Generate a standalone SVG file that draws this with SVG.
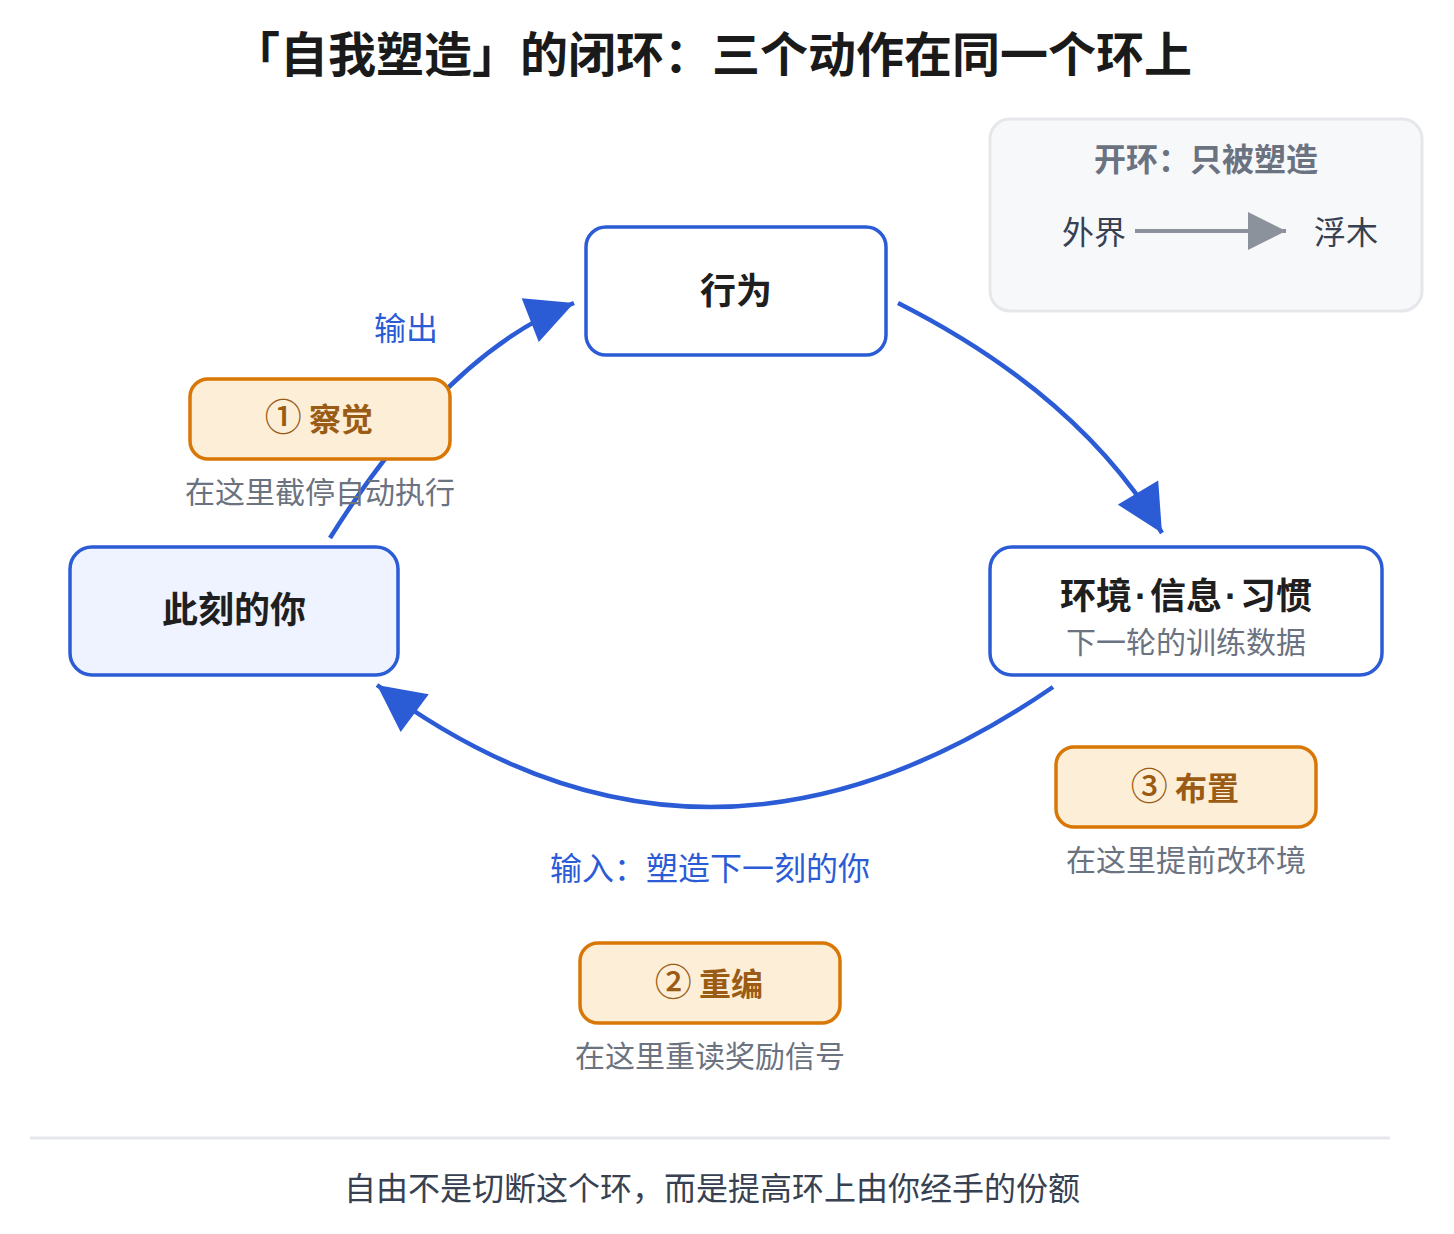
<svg xmlns="http://www.w3.org/2000/svg" width="1454" height="1234" viewBox="0 0 1454 1234">
<defs>
<style>
text{font-family:"Noto Sans CJK SC","Noto Sans",sans-serif;text-anchor:middle}
.title{font-size:48px;font-weight:700;fill:#1a1a1a}
.node{fill:#ffffff;stroke:#2b5cd6;stroke-width:3.5}
.node-me{fill:#eef3ff;stroke:#2b5cd6;stroke-width:3.5}
.ntext{font-size:36px;font-weight:700;fill:#1f1f1f}
.dot{font-family:"Liberation Sans",sans-serif}
.sub{font-size:30px;fill:#6b7280}
.act{fill:#fdeed8;stroke:#d97706;stroke-width:3.5}
.atext{font-size:32px;font-weight:700;fill:#9a5c15}
.num{font-size:37px;font-weight:500}
.cap{font-size:30px;fill:#6b7280}
.blue{font-size:32px;fill:#2b5cd6}
.conn{fill:none;stroke:#2b5cd6;stroke-width:4.5}
.leg{fill:#f7f8fa;stroke:#e5e7eb;stroke-width:3}
.legt{font-size:32px;font-weight:700;fill:#6b7280}
.legl{font-size:32px;fill:#374151}
.foot{font-size:32px;fill:#374151}
</style>
<marker id="ah" markerUnits="userSpaceOnUse" viewBox="0 0 10 10" markerWidth="48" markerHeight="47" refX="10" refY="5" orient="auto">
<path d="M0,0 L10,5 L0,10 z" fill="#2b5cd6"/>
</marker>
<marker id="ahg" markerUnits="userSpaceOnUse" viewBox="0 0 10 10" markerWidth="40" markerHeight="38" refX="10" refY="5" orient="auto">
<path d="M0,0 L10,5 L0,10 z" fill="#8b929c"/>
</marker>
</defs>

<rect width="1454" height="1234" fill="#ffffff"/>

<text class="title" x="712" y="72">「自我塑造」的闭环：三个动作在同一个环上</text>

<g id="legend">
<rect class="leg" x="990" y="119" width="432" height="192" rx="20"/>
<text class="legt" x="1206" y="171">开环：只被塑造</text>
<text class="legl" x="1094" y="244">外界</text>
<line x1="1135" y1="231" x2="1286" y2="231" stroke="#8b929c" stroke-width="4" marker-end="url(#ahg)"/>
<text class="legl" x="1346" y="244">浮木</text>
</g>

<g id="connectors">
<path class="conn" d="M330,538 Q446,353 574,303" marker-end="url(#ah)"/>
<path class="conn" d="M898,303 Q1080,395 1162,533" marker-end="url(#ah)"/>
<path class="conn" d="M1053,687 Q703,928 377,685" marker-end="url(#ah)"/>
</g>

<g id="label-output"><text class="blue" x="406" y="340">输出</text></g>
<g id="label-input"><text class="blue" x="710" y="880">输入：塑造下一刻的你</text></g>

<g id="node-behavior">
<rect class="node" x="586" y="227" width="300" height="128" rx="20"/>
<text class="ntext" x="736" y="304">行为</text>
</g>

<g id="node-you">
<rect class="node-me" x="70" y="547" width="328" height="128" rx="22"/>
<text class="ntext" x="234" y="623">此刻的你</text>
</g>

<g id="node-env">
<rect class="node" x="990" y="547" width="392" height="128" rx="22"/>
<text class="ntext" x="1186" y="609">环境<tspan class="dot" dx="3">·</tspan><tspan dx="3">信息</tspan><tspan class="dot" dx="3">·</tspan><tspan dx="3">习惯</tspan></text>
<text class="sub" x="1186" y="653">下一轮的训练数据</text>
</g>

<g id="step-1">
<rect class="act" x="190" y="379" width="260" height="80" rx="18"/>
<text class="atext" x="319" y="431"><tspan class="num">①</tspan> 察觉</text>
<text class="cap" x="320" y="503">在这里截停自动执行</text>
</g>

<g id="step-3">
<rect class="act" x="1056" y="747" width="260" height="80" rx="18"/>
<text class="atext" x="1185" y="800"><tspan class="num">③</tspan> 布置</text>
<text class="cap" x="1186" y="871">在这里提前改环境</text>
</g>

<g id="step-2">
<rect class="act" x="580" y="943" width="260" height="80" rx="18"/>
<text class="atext" x="709" y="996"><tspan class="num">②</tspan> 重编</text>
<text class="cap" x="710" y="1067">在这里重读奖励信号</text>
</g>

<g id="footer">
<line x1="30" y1="1138" x2="1390" y2="1138" stroke="#e5e7eb" stroke-width="3"/>
<text class="foot" x="712" y="1200">自由不是切断这个环，而是提高环上由你经手的份额</text>
</g>
</svg>
